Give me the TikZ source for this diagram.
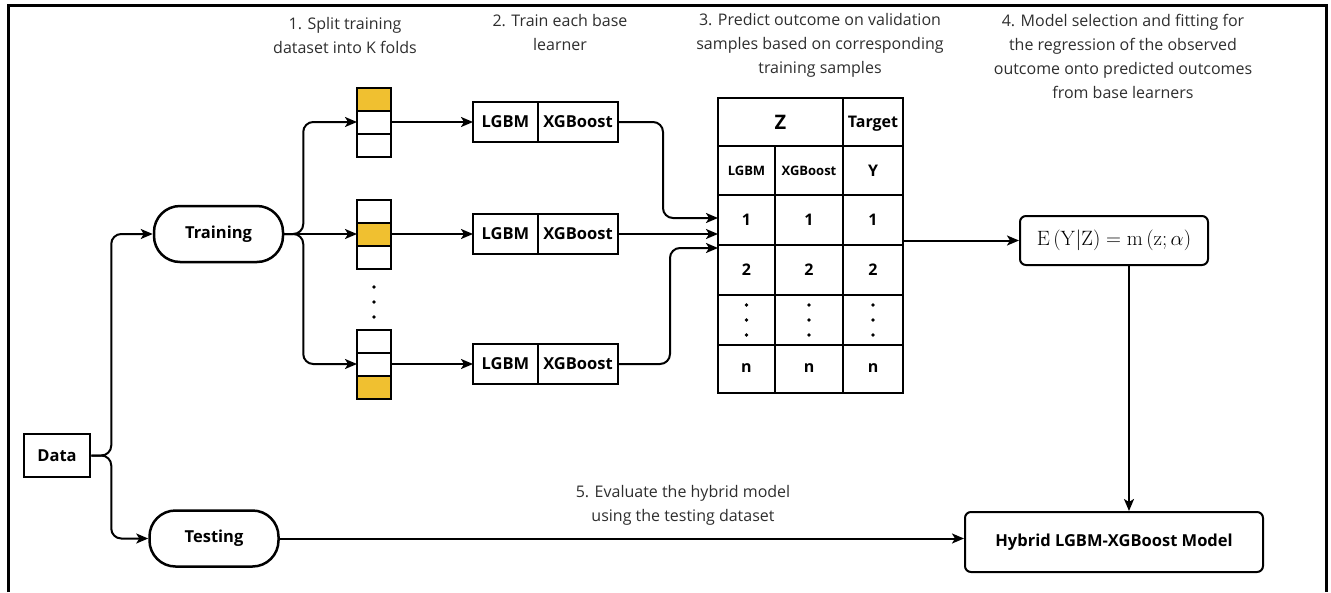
\documentclass[tikz,border=0pt]{standalone}
\usepackage[no-math]{fontspec}
\setmainfont{Open Sans}
\usepackage{tikz}
\usetikzlibrary{arrows.meta,positioning}
\definecolor{foldyellow}{HTML}{F0C030}
\definecolor{notegray}{HTML}{2E2E2E}

\tikzset{
  conn/.style={line width=2pt, -{Stealth[length=12pt,width=10pt,inset=3pt]}, rounded corners=10pt},
  oval/.style={draw, line width=2.5pt, rounded corners=26pt, minimum width=129pt,
               minimum height=56pt, font=\fontsize{16.5}{18}\selectfont\bfseries},
  cell/.style={draw, line width=2pt, minimum width=34pt, minimum height=23pt,
               inner sep=0pt, outer sep=0pt},
  learner/.style={draw, line width=2pt, minimum height=40pt, inner sep=0pt,
                  outer sep=0pt, font=\fontsize{16.5}{18}\selectfont\bfseries},
  note/.style={align=center, text=notegray, font=\fontsize{16}{24}\selectfont},
  tabtext/.style={font=\fontsize{16}{18}\selectfont\bfseries},
  tabsmall/.style={font=\fontsize{13}{15}\selectfont\bfseries},
}

\begin{document}
\begin{tikzpicture}[x=1pt, y=-1pt]
  \useasboundingbox (0,0) rectangle (1331,592);
  \draw[line width=3pt] (8,592) -- (8,5) -- (1326,5) -- (1326,592);

  \node[draw, line width=2.5pt, minimum width=66pt, minimum height=43pt,
        font=\fontsize{16.5}{18}\selectfont\bfseries] (data) at (57,455.5) {Data};
  \node[oval] (train) at (218.5,234) {Training};
  \node[oval] (test) at (214,538.5) {Testing};

  \draw[conn] (data.east) -- ++(20,0) |- (train.west);
  \draw[conn] (data.east) -- ++(20,0) |- (test.west);

  \foreach \k/\y/\ca/\cb/\cc in {1/122/foldyellow/white/white,
                                 2/234/white/foldyellow/white,
                                 3/364/white/white/foldyellow} {
    \node[cell, fill=\cb] (s\k b) at (374,\y) {};
    \node[cell, fill=\ca, above=0pt of s\k b] (s\k a) {};
    \node[cell, fill=\cc, below=0pt of s\k b] (s\k c) {};
    \node[learner, minimum width=65pt] (lg\k) at (505.5,\y) {LGBM};
    \node[learner, minimum width=80pt, right=0pt of lg\k] (xg\k) {XGBoost};
    \draw[conn] (s\k b.east) -- (lg\k.west);
  }
  \foreach \d in {287,302,317}
    \fill (374,\d) circle (1.8pt);

  \draw[conn] (train.east) -- ++(19,0) |- (s1b.west);
  \draw[conn] (train.east) -- (s2b.west);
  \draw[conn] (train.east) -- ++(19,0) |- (s3b.west);

  % table of predictions
  \node[draw, line width=2.5pt, minimum width=185pt, minimum height=295pt,
        inner sep=0pt, outer sep=0pt] (tab) at (810.5,245.5) {};
  \foreach \r in {146,195,245,295,345}
    \draw[line width=2pt] (718,\r) -- (903,\r);
  \draw[line width=2pt] (843,98) -- (843,393);
  \draw[line width=2pt] (775,146) -- (775,393);
  \node[font=\fontsize{20}{22}\selectfont\bfseries] (tz) at (780.5,122) {Z};
  \node[tabtext] (tt) at (873,124) {Target};
  \node[tabsmall] (h1) at (746.5,170.5) {LGBM};
  \node[tabsmall] (h2) at (809,170.5) {XGBoost};
  \node[tabtext] (h3) at (873,170.5) {Y};
  \foreach \c/\x in {a/746.5,b/809,c/873} {
    \node[tabtext] (r1\c) at (\x,220) {1};
    \node[tabtext] (r2\c) at (\x,270) {2};
    \node[tabtext] (rn\c) at (\x,368) {n};
    \foreach \d in {305,320,335}
      \fill (\x,\d) circle (1.8pt);
  }

  \draw[conn] (xg1.east) -- ++(45,0) |- ([yshift=27.5pt]tab.west);
  \draw[conn] (xg2.east) -- (tab.west |- xg2.east);
  \draw[conn] (xg3.east) -- ++(52,0) |- ([yshift=-2.5pt]tab.west);

  \node[draw, line width=2pt, rounded corners=6pt, minimum width=188pt,
        minimum height=49pt, font=\fontsize{21.5}{23}\selectfont] (E) at (1114,240.5)
        {$\mathrm{E}\left(\mathrm{Y}|\mathrm{Z}\right)=\mathrm{m}\left(\mathrm{z};\alpha\right)$};
  \draw[conn] (tab.east |- E.west) -- (E.west);

  \node[draw, line width=2pt, rounded corners=6pt, minimum width=298pt,
        minimum height=60pt, font=\fontsize{16.5}{18}\selectfont\bfseries] (hyb) at (1114,542)
        {Hybrid LGBM-XGBoost Model};
  \draw[conn] ([xshift=15pt]E.south) -- ([xshift=15pt]hyb.north);
  \draw[conn] (test.east) -- (test.east -| hyb.west);

  \node[note] (n1) at (345,35) {1. Split training\\dataset into K folds};
  \node[note] (n2) at (560,32) {2. Train each base\\learner};
  \node[note] (n3) at (820,45) {3. Predict outcome on validation\\samples based on corresponding\\training samples};
  \node[note] (n4) at (1123,56) {4. Model selection and fitting for\\the regression of the observed\\outcome onto predicted outcomes\\from base learners};
  \node[note] (n5) at (683,505) {5. Evaluate the hybrid model\\using the testing dataset};
\end{tikzpicture}
\end{document}
